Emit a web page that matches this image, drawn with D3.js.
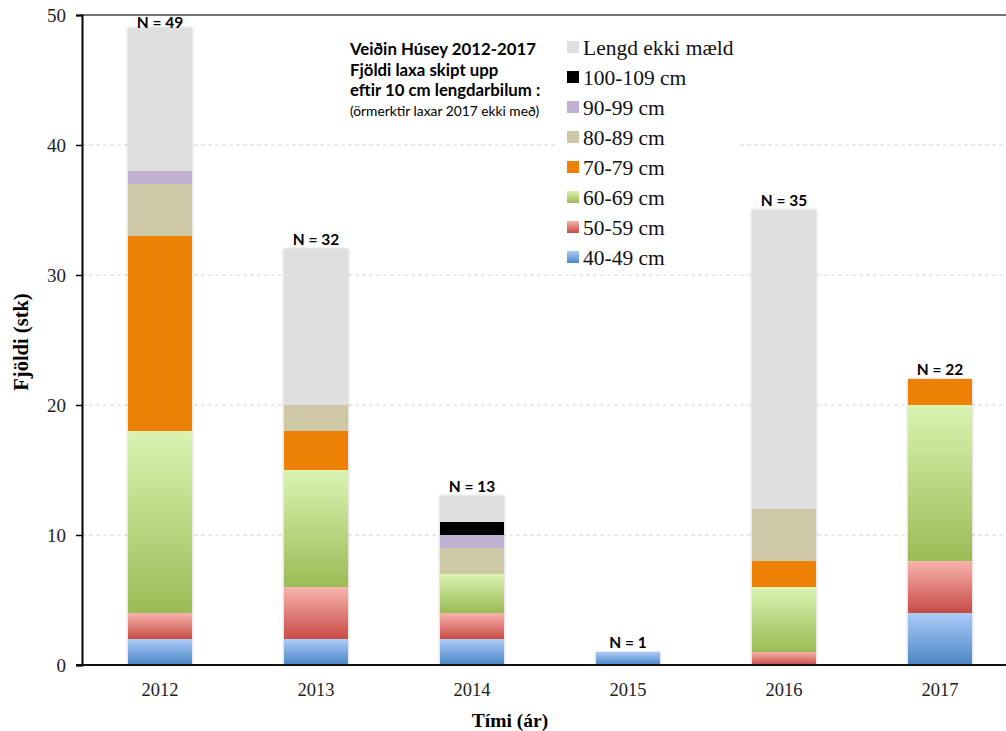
<!DOCTYPE html>
<html>
<head>
<meta charset="utf-8">
<script src="https://cdn.jsdelivr.net/npm/d3@7"></script>
<style>
  body { margin: 0; background: #fff; }
  svg { display: block; }
</style>
</head>
<body>
<svg id="chart" width="1006" height="731"></svg>
<script>
// data
let years = ["2012", "2013", "2014", "2015", "2016", "2017"];
let classes = ["40-49 cm", "50-59 cm", "60-69 cm", "70-79 cm", "80-89 cm", "90-99 cm", "100-109 cm", "Lengd ekki mæld"];
let c40 = [2, 2, 2, 1, 0, 4];
let c50 = [2, 4, 2, 0, 1, 4];
let c60 = [14, 9, 3, 0, 5, 12];
let c70 = [15, 3, 0, 0, 2, 2];
let c80 = [4, 2, 2, 0, 4, 0];
let c90 = [1, 0, 1, 0, 0, 0];
let c100 = [0, 0, 1, 0, 0, 0];
let cNone = [11, 12, 2, 0, 23, 0];
let yTicks = [0, 10, 20, 30, 40, 50];
let titleLines = ["Veiðin Húsey 2012-2017", "Fjöldi laxa skipt upp", "eftir 10 cm lengdarbilum :"];
let noteLine = "(örmerktir laxar 2017 ekki með)";

let series = [c40, c50, c60, c70, c80, c90, c100, cNone];

let rows = years.map(function(y, i) {
    let r = { year: y };
    classes.forEach(function(c, j) { r[c] = series[j][i]; });
    r.total = series.reduce((a, s) => a + s[i], 0);
    return r;
});

// fills: gradient pairs (top, bottom) or solid
let fills = [
    ["#abcbf7", "#4b86c6"],
    ["#f8b3ad", "#c84b45"],
    ["#dbf3b2", "#9bbb55"],
    "#ec8106",
    "#cec8a7",
    "#c0b0d2",
    "#000000",
    "#dfdfdf"
];

let serif = "'Liberation Serif', 'Times New Roman', serif",
    sans = "Lato, 'Open Sans', sans-serif";

let svg = d3.select("#chart");

let x = d3.scaleBand().domain(years).range([82, 1018]).paddingInner(0.59).paddingOuter(0.295);
let y = d3.scaleLinear().domain([0, 50]).range([665, 15]);

let defs = svg.append("defs");
fills.forEach(function(f, i) {
    if (Array.isArray(f)) {
	let g = defs.append("linearGradient")
	    .attr("id", "grad" + i)
	    .attr("x1", 0).attr("y1", 0).attr("x2", 0).attr("y2", 1);
	g.append("stop").attr("offset", "0%").attr("stop-color", f[0]);
	g.append("stop").attr("offset", "100%").attr("stop-color", f[1]);
    }
});
defs.append("filter").attr("id", "shadow")
    .attr("x", "-20%").attr("y", "-5%").attr("width", "140%").attr("height", "110%")
    .append("feDropShadow")
    .attr("dx", 0).attr("dy", 0).attr("stdDeviation", 1.5)
    .attr("flood-color", "#000").attr("flood-opacity", 0.25);

function fillOf(i) {
    return Array.isArray(fills[i]) ? "url(#grad" + i + ")" : fills[i];
}

// gridlines
svg.append("g").attr("class", "grid")
    .selectAll("line")
    .data(yTicks.filter(d => d > 0 && d < 50))
    .enter().append("line")
    .attr("x1", 82).attr("x2", 1006)
    .attr("y1", d => y(d)).attr("y2", d => y(d))
    .attr("stroke", "#d4d4d4")
    .attr("stroke-width", 1)
    .attr("stroke-dasharray", "4,3");

// top frame line
svg.append("line")
    .attr("x1", 82).attr("x2", 1006)
    .attr("y1", y(50)).attr("y2", y(50))
    .attr("stroke", "#444").attr("stroke-width", 1.5);

// stacked bars
let stack = d3.stack().keys(classes);
let layers = stack(rows);

let barsG = svg.append("g").attr("class", "bars");
barsG.selectAll("rect.shadow")
    .data(rows.filter(d => d.total > 0))
    .enter().append("rect")
    .attr("class", "shadow")
    .attr("x", d => x(d.year))
    .attr("width", x.bandwidth())
    .attr("y", d => y(d.total))
    .attr("height", d => y(0) - y(d.total))
    .attr("fill", "#fff")
    .attr("filter", "url(#shadow)");

layers.forEach(function(layer, i) {
    barsG.selectAll("rect.l" + i)
	.data(layer.filter(d => d[1] - d[0] > 0))
	.enter().append("rect")
	.attr("class", "l" + i)
	.attr("x", d => x(d.data.year))
	.attr("width", x.bandwidth())
	.attr("y", d => y(d[1]))
	.attr("height", d => y(d[0]) - y(d[1]))
	.attr("fill", fillOf(i));
});

// N labels (kept inside the plot frame at the top)
svg.append("g").selectAll("text")
    .data(rows)
    .enter().append("text")
    .attr("x", d => x(d.year) + x.bandwidth() / 2)
    .attr("y", d => Math.max(y(d.total) - 4, y(50) + 12.5))
    .attr("text-anchor", "middle")
    .attr("font-family", sans)
    .attr("font-weight", "bold")
    .attr("font-size", 15.5)
    .attr("fill", "#000")
    .text(d => "N = " + d.total);

// axes
let yAxis = svg.append("g")
    .attr("transform", "translate(82,0)")
    .call(d3.axisLeft(y).tickValues(yTicks).tickSize(6).tickPadding(10));
yAxis.attr("font-family", serif).attr("font-size", 19);
yAxis.select(".domain").attr("stroke", "#000").attr("stroke-width", 2);
yAxis.selectAll(".tick line").attr("stroke", "#000").attr("stroke-width", 1.5);
yAxis.selectAll(".tick text").attr("fill", "#222");

let xAxis = svg.append("g")
    .attr("transform", "translate(0,665)")
    .call(d3.axisBottom(x).tickSize(0).tickPadding(18));
xAxis.attr("font-family", serif).attr("font-size", 18.5);
xAxis.select(".domain").remove();
xAxis.append("line")
    .attr("x1", 76).attr("x2", 1006)
    .attr("stroke", "#111").attr("stroke-width", 2);
xAxis.selectAll(".tick text").attr("fill", "#222");

// axis titles
svg.append("text")
    .attr("transform", "translate(28," + 342 + ") rotate(-90)")
    .attr("text-anchor", "middle")
    .attr("font-family", serif)
    .attr("font-weight", "bold")
    .attr("font-size", 20.5)
    .text("Fjöldi (stk)");

svg.append("text")
    .attr("x", 510).attr("y", 727)
    .attr("text-anchor", "middle")
    .attr("font-family", serif)
    .attr("font-weight", "bold")
    .attr("font-size", 19.5)
    .text("Tími (ár)");

// title box
let title = svg.append("g").attr("transform", "translate(350,0)");
title.selectAll("text.t")
    .data(titleLines)
    .enter().append("text")
    .attr("class", "t")
    .attr("x", 0)
    .attr("y", (d, i) => 55 + i * 20.5)
    .attr("font-family", sans)
    .attr("font-weight", "bold")
    .attr("font-size", 16.8)
    .text(d => d);
title.append("text")
    .attr("x", 0).attr("y", 116)
    .attr("font-family", sans)
    .attr("font-size", 13.8)
    .text(noteLine);

// legend (top entry is unmeasured, bottom is 40-49)
let legendOrder = classes.map((c, i) => i).reverse();
let legend = svg.append("g").attr("class", "legend");
legend.append("rect")
    .attr("x", 557).attr("y", 34)
    .attr("width", 183).attr("height", 237)
    .attr("fill", "#fff");
let items = legend.selectAll("g.item")
    .data(legendOrder)
    .enter().append("g")
    .attr("class", "item")
    .attr("transform", (d, k) => "translate(567," + (48 + k * 30) + ")");
items.append("rect")
    .attr("x", 0).attr("y", -7)
    .attr("width", 12).attr("height", 12)
    .attr("fill", d => fillOf(d));
items.append("text")
    .attr("x", 16).attr("y", 7)
    .attr("font-family", serif)
    .attr("font-size", 21.5)
    .attr("fill", "#111")
    .text(d => classes[d]);
</script>
</body>
</html>
